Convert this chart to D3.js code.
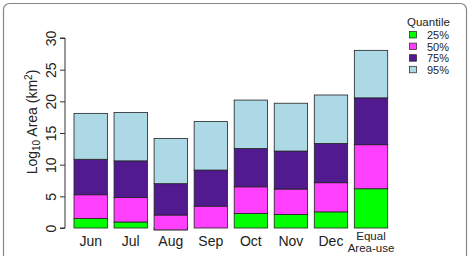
<!DOCTYPE html>
<html><head><meta charset="utf-8">
<script src="https://cdn.jsdelivr.net/npm/d3@7"></script>
<style>html,body{margin:0;padding:0;background:#fff;}svg{display:block;font-family:"Liberation Sans",Arial,sans-serif;}</style>
</head><body>
<svg id="c" width="470" height="256"></svg>
<script>
const categories = ["Jun","Jul","Aug","Sep","Oct","Nov","Dec","Equal Area-use"];
const quantiles = ["25%","50%","75%","95%"];
// cumulative log10 area at each quantile
const q25 = [1.5, 0.95, -0.3, 0.0, 2.3, 2.15, 2.55, 6.2];
const q50 = [5.25, 4.8, 2.05, 3.45, 6.5, 6.15, 7.15, 13.15];
const q75 = [10.85, 10.6, 7.0, 9.15, 12.55, 12.15, 13.35, 20.55];
const q95 = [18.1, 18.25, 14.15, 16.8, 20.2, 19.7, 21.0, 28.05];
const yTicks = [0,5,10,15,20,25,30];
const colors = ["#00ff00","#ff40ff","#521a8f","#add8e6"];

const svg = d3.select("#c");
// frame
svg.append("rect").attr("x",3.5).attr("y",3.5).attr("width",463).attr("height",262)
  .attr("rx",6).attr("fill","none").attr("stroke","#888").attr("stroke-width",1.2);

const x = d3.scaleBand().domain(categories).range([74, 387.7]).paddingInner(1/6).paddingOuter(0);
const y = d3.scaleLinear().domain([0,30]).range([228, 38]);

const series = [q25,q50,q75,q95];
const g = svg.append("g");
categories.forEach((c,i)=>{
  let prev = 0;
  series.forEach((s,k)=>{
    const v = s[i];
    g.append("rect")
      .attr("x", x(c)).attr("width", x.bandwidth())
      .attr("y", y(Math.max(prev,v))).attr("height", Math.abs(y(prev)-y(v)))
      .attr("fill", colors[k]).attr("stroke","#222").attr("stroke-width",0.8);
    prev = v;
  });
});

// y axis
const ya = svg.append("g").attr("transform","translate(65,0)")
  .call(d3.axisLeft(y).tickValues(yTicks).tickSize(5).tickPadding(3));
ya.select(".domain").attr("stroke","#333").attr("d","M-5,"+y(0)+"H0V"+y(30)+"H-5");
ya.selectAll(".tick line").attr("stroke","#333");
ya.selectAll(".tick text").attr("font-size",14).attr("fill","#222")
  .attr("font-family","Liberation Sans, Arial, sans-serif")
  .attr("transform","rotate(-90)").attr("text-anchor","middle")
  .attr("x",0).attr("dy",0).attr("y",-9);

// y label
const yl = svg.append("text").attr("transform","translate(37,122) rotate(-90)")
  .attr("text-anchor","middle").attr("font-size",14).attr("fill","#222");
yl.append("tspan").text("Log");
yl.append("tspan").attr("font-size",10).attr("dy",3).text("10");
yl.append("tspan").attr("dy",-3).text(" Area (km");
yl.append("tspan").attr("font-size",10).attr("dy",-5).text("2");
yl.append("tspan").attr("dy",5).text(")");

// x labels
categories.forEach((c)=>{
  const cx = x(c)+x.bandwidth()/2;
  if (c === "Equal Area-use") {
    svg.append("text").attr("x",cx).attr("y",240).attr("text-anchor","middle")
      .attr("font-size",11.5).attr("fill","#222").text("Equal");
    svg.append("text").attr("x",cx).attr("y",252).attr("text-anchor","middle")
      .attr("font-size",11.5).attr("fill","#222").text("Area-use");
  } else {
    svg.append("text").attr("x",cx).attr("y",246).attr("text-anchor","middle")
      .attr("font-size",14).attr("fill","#222").text(c);
  }
});

// legend
const lg = svg.append("g");
lg.append("text").attr("x",407).attr("y",26).attr("font-size",11.5).attr("fill","#222").text("Quantile");
quantiles.forEach((q,k)=>{
  const yy = 35 + k*11.6;
  lg.append("rect").attr("x",409.5).attr("y",yy-3.5).attr("width",7).attr("height",6.5)
    .attr("fill",colors[k]).attr("stroke","#222").attr("stroke-width",0.7);
  lg.append("text").attr("x",427).attr("y",yy+4).attr("font-size",11).attr("fill","#222").text(q);
});
</script>
</body></html>
